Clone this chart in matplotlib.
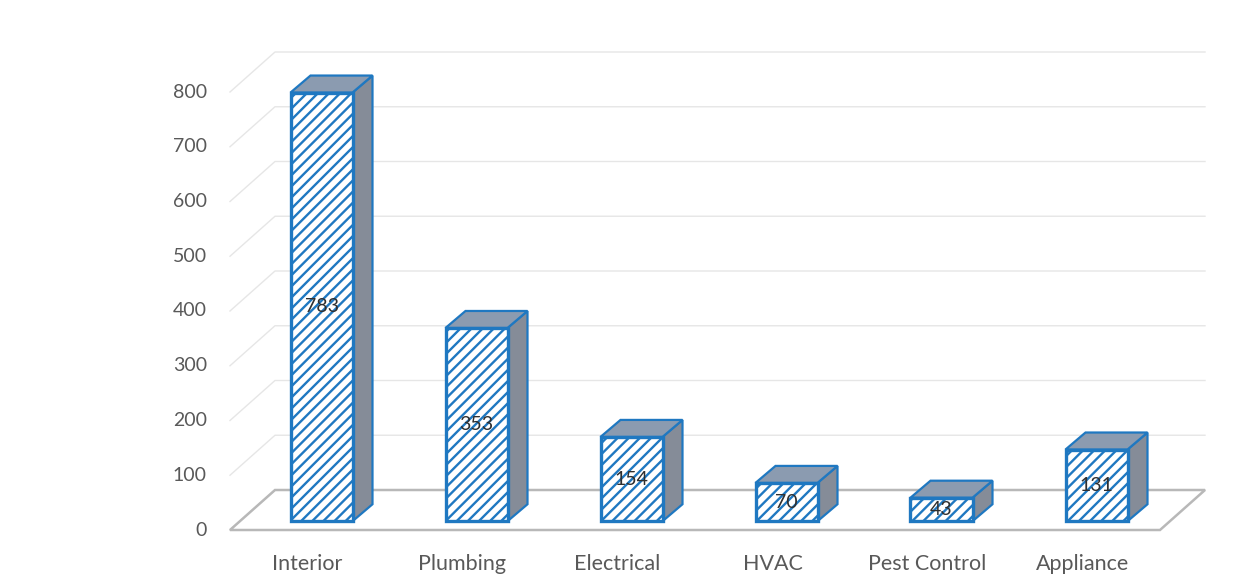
import matplotlib.pyplot as plt
from matplotlib.patches import Polygon

categories = ['Interior', 'Plumbing', 'Electrical', 'HVAC', 'Pest Control', 'Appliance']
values = [783, 353, 154, 70, 43, 131]
yticks = [0, 100, 200, 300, 400, 500, 600, 700, 800]

plt.rcParams['font.family'] = ['Lato', 'DejaVu Sans']
plt.rcParams['hatch.linewidth'] = 1.7
plt.rcParams['hatch.color'] = '#2b8fd0'

# pixel mapping: x -> 307.5 + 155*x, y -> 530 - 0.5475*v
W, H = 1233, 582
sx, x0 = 155.0, 307.5
sy, y0 = 0.5475, 530.0

fig = plt.figure(figsize=(W / 100, H / 100), dpi=100)
ax = fig.add_axes([0, 0, 1, 1])
ax.set_xlim(-x0 / sx, (W - x0) / sx)
ax.set_ylim((y0 - H) / sy, y0 / sy)
ax.axis('off')

grid_c = '#e6e6e6'
floor_c = '#b8b8b8'
ddx, ddy = 45 / sx, 40 / sy       # depth of the floor / walls
left, right = -0.5, len(categories) - 0.5

# gridlines on back wall and left side wall
for v in yticks:
    ax.plot([left, left + ddx, right + ddx], [v, v + ddy, v + ddy],
            color=grid_c, lw=1.0, zorder=1)
    ax.text(left - 0.15, v, str(v), ha='right', va='center',
            fontsize=14, color='#595959')

# floor outline
ax.add_patch(Polygon([(left, 0), (right, 0), (right + ddx, ddy), (left + ddx, ddy)],
                     closed=True, fill=False, ec=floor_c, lw=1.8, zorder=2))

# bars
bw = 62 / sx
bx_off = 14 / sx
bdx, bdy = 20 / sx, 17 / sy
base = 16
edge_c = '#1f78c1'
for i, (cat, val) in enumerate(zip(categories, values)):
    xl = i + bx_off - bw / 2
    xr = xl + bw
    top = base + val
    # side face
    ax.add_patch(Polygon([(xr, base), (xr + bdx, base + bdy), (xr + bdx, top + bdy), (xr, top)],
                         closed=True, fc='#858c98', ec=edge_c, lw=1.6, zorder=3))
    # top face
    ax.add_patch(Polygon([(xl, top), (xr, top), (xr + bdx, top + bdy), (xl + bdx, top + bdy)],
                         closed=True, fc='#8b9bb0', ec=edge_c, lw=1.6, zorder=3))
    # front face
    ax.bar(xl, val, width=bw, bottom=base, align='edge', color='white',
           edgecolor=edge_c, hatch='///', lw=2.4, zorder=4)
    ax.text(xl + bw / 2, base + val / 2, str(val), ha='center', va='center',
            fontsize=14, color='#2f2f2f', zorder=5)
    ax.text(i, -62, cat, ha='center', va='center', fontsize=15.5, color='#595959')

fig.savefig('out.png', dpi=100, facecolor='white')
